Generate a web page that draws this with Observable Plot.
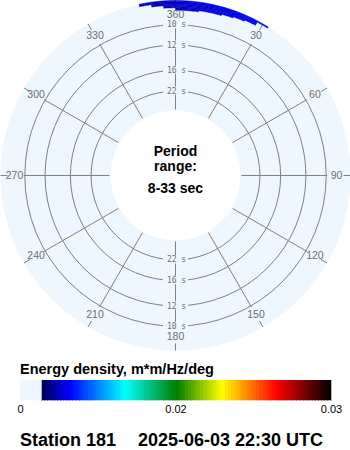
<!DOCTYPE html>
<html>
<head>
<meta charset="utf-8">
<script src="https://cdn.jsdelivr.net/npm/d3@7"></script>
<script src="https://cdn.jsdelivr.net/npm/@observablehq/plot@0.6"></script>
<style>
  html, body { margin: 0; padding: 0; background: #fff; }
  #wrap { position: relative; width: 350px; height: 450px; overflow: hidden; font-family: "Liberation Sans", Arial, sans-serif; }
  #polar { position: absolute; left: 0; top: 0; }
  #legend { position: absolute; left: 0; top: 378px; }
  .ltitle { position: absolute; left: 20px; top: 362px; font-weight: bold; font-size: 14.5px; line-height: 15px; color: #000; white-space: nowrap; }
  .title { position: absolute; top: 431px; font-weight: bold; font-size: 18px; line-height: 18px; color: #000; white-space: nowrap; }
</style>
</head>
<body>
<div id="wrap">
  <div id="polar"></div>
  <div class="ltitle" id="ltitle"></div>
  <div id="legend"></div>
  <div class="title" id="t1" style="left:20px"></div>
  <div class="title" id="t2" style="left:138px"></div>
</div>
<script>
// ---------------- data ----------------
const station = "Station 181";
const timestamp = "2025-06-03 22:30 UTC";
const legendTitle = "Energy density, m*m/Hz/deg";
const periodRange = [8, 33];                 // s
const periodRings = [10, 12, 16, 22];        // s
const dirTicks = [0, 30, 60, 90, 120, 150, 180, 210, 240, 270, 300, 330];
const dirLabels = ["360", "30", "60", "90", "120", "150", "180", "210", "240", "270", "300", "330"];
// spectral cells (direction bin centres in deg, frequency bin centres in Hz)
const directions = [-10, -6, -2, 2, 6, 10, 14, 18, 22, 26, 30];
const dirWidth = 4;
const freqs = [0.1125, 0.1135, 0.1145, 0.1155, 0.1165, 0.1175, 0.1185, 0.1195];
const freqWidth = 0.001;
const energy = [ // rows: freqs, cols: directions (m*m/Hz/deg)
  [0,      0,      0,      0.0053, 0.0055, 0,      0,      0,      0,      0,      0     ],
  [0,      0,      0,      0.0053, 0.0055, 0.0056, 0.0057, 0,      0,      0,      0     ],
  [0,      0,      0.0051, 0.0053, 0.0055, 0.0056, 0.0057, 0.0058, 0,      0,      0     ],
  [0,      0,      0.0051, 0.0053, 0.0055, 0.0056, 0.0057, 0.0058, 0.0060, 0,      0     ],
  [0,      0.0049, 0.0051, 0.0053, 0.0055, 0.0056, 0.0057, 0.0058, 0.0060, 0.0061, 0     ],
  [0,      0.0049, 0.0051, 0.0053, 0.0055, 0.0056, 0.0057, 0.0058, 0.0060, 0.0061, 0     ],
  [0.0046, 0.0049, 0.0051, 0.0053, 0.0055, 0.0056, 0.0057, 0.0058, 0.0060, 0.0061, 0     ],
  [0.0046, 0.0049, 0.0051, 0.0053, 0.0055, 0.0056, 0.0057, 0.0058, 0.0060, 0.0061, 0.0063]
];
// colour scale
const colorStops = [0, 0.0027, 0.00271, 0.0064, 0.0135, 0.0201, 0.023, 0.0265, 0.03];
const colorRange = ["#eef6fe", "#eef6fe", "#000050", "#0000ff", "#00ffff", "#008000", "#ffff00", "#ff0000", "#000000"];
const legendTicks = [0, 0.02, 0.03];
const legendTickLabels = ["0", "0.02", "0.03"];

// ---------------- layout ----------------
const DISK = "#eef6fe", GRID = "#808080", LABEL = "#6e6e6e";
const R_DISK = 175, R_LABEL = 161, R_TICK = 168;
const rScale = d3.scaleLinear().domain([1 / 33, 0.12]).range([66, 175]);
const rad = a => a * Math.PI / 180;
const px = (a, r) => r * Math.sin(rad(a));
const py = (a, r) => r * Math.cos(rad(a));

const colorOpts = { type: "linear", domain: colorStops, range: colorRange, interpolate: "rgb", clamp: true };

// cells as closed polygons
const cellPts = [];
freqs.forEach((f, i) => directions.forEach((d, j) => {
  const v = energy[i][j];
  if (!(v > 0)) return;
  const r0 = rScale(f - freqWidth / 2), r1 = rScale(f + freqWidth / 2);
  const a0 = d - dirWidth / 2, a1 = d + dirWidth / 2, id = i + "-" + j, n = 6;
  for (let k = 0; k <= n; k++) { const a = a0 + (a1 - a0) * k / n; cellPts.push({ id, v, x: px(a, r0), y: py(a, r0) }); }
  for (let k = n; k >= 0; k--) { const a = a0 + (a1 - a0) * k / n; cellPts.push({ id, v, x: px(a, r1), y: py(a, r1) }); }
}));

const periodLabelData = [];
periodRings.forEach(p => [0, 180].forEach(a => periodLabelData.push({ p, a })));
const rIn = rScale(1 / periodRange[1]);
const rOut = rScale(1 / periodRings[0]);
const centerLines = ["Period", "range:", periodRange[0] + "-" + periodRange[1] + " sec"];

const polar = Plot.plot({
  width: 350, height: 352, margin: 0,
  x: { domain: [-175, 175], range: [0, 350], axis: null },
  y: { domain: [-175, 175], range: [350, 0], axis: null },
  r: { type: "identity" },
  color: colorOpts,
  style: { background: "transparent", overflow: "visible" },
  marks: [
    Plot.dot([0], { x: () => 0, y: () => 0, r: () => R_DISK, fill: DISK, stroke: "none" }),
    Plot.link(dirTicks, { x1: d => px(d, R_TICK), y1: d => py(d, R_TICK), x2: d => px(d, R_DISK), y2: d => py(d, R_DISK), stroke: GRID, strokeWidth: 1 }),
    Plot.line(cellPts, { x: "x", y: "y", z: "id", fill: "v", stroke: "v", strokeWidth: 0.5 }),
    Plot.dot(periodRings, { x: () => 0, y: () => 0, r: d => rScale(1 / d), fill: "none", stroke: GRID, strokeWidth: 1 }),
    Plot.link(dirTicks, { x1: d => px(d, rIn), y1: d => py(d, rIn), x2: d => px(d, rOut + 1), y2: d => py(d, rOut + 1), stroke: GRID, strokeWidth: 1 }),
    Plot.dot([0], { x: () => 0, y: () => 0, r: () => rIn - 1, fill: "white", stroke: "none" }),
    Plot.rect(periodLabelData, { x1: () => -12, x2: () => 13, y1: d => py(d.a, rScale(1 / d.p)) - 4, y2: d => py(d.a, rScale(1 / d.p)) + 4, fill: DISK }),
    Plot.text(periodLabelData, { x: () => 0, y: d => py(d.a, rScale(1 / d.p)), text: d => d.p + " s", dx: 1,
      fontFamily: "DejaVu Sans Mono", fontSize: 8, fill: LABEL }),
    Plot.text(dirTicks, { x: d => px(d, R_LABEL), y: d => py(d, R_LABEL), text: (d, i) => dirLabels[i],
      fontFamily: "Liberation Sans", fontSize: 10.5, fill: LABEL }),
    Plot.text(centerLines, {
      x: () => 0, y: () => 0, text: d => d,
      fontFamily: "Liberation Sans", fontWeight: "bold", fontSize: 14, fill: "#000"
    })
  ]
});
// offset centre text lines
{
  const offs = [-19.5, -4.5, 17.5];
  const centerTexts = Array.from(polar.querySelectorAll("text")).filter(t => centerLines.includes(t.textContent));
  centerTexts.forEach((t, i) => {
    const y = parseFloat(t.getAttribute("y") || 0);
    t.setAttribute("y", y + offs[centerLines.indexOf(t.textContent)]);
  });
}
document.getElementById("polar").appendChild(polar);

// legend ramp (bar position is piecewise: 0 → left, 0.02 → middle, 0.03 → right)
const legendPos = d3.scaleLinear().domain(legendTicks).range([0, 0.5, 1]);
const tickPositions = legendTicks.map(legendPos);
const edges = d3.range(0, 0.02 - 1e-9, 0.0004).concat(d3.range(0.02, 0.03 - 1e-9, 0.0002)).concat([0.03]);
const legendCells = d3.pairs(edges).map(([a, b]) => ({ a, b, m: (a + b) / 2 }));
const legend = Plot.plot({
  width: 350, height: 44, marginTop: 2, marginBottom: 22, marginLeft: 20, marginRight: 19,
  x: { domain: [0, 1], ticks: tickPositions,
       tickFormat: d => legendTickLabels[tickPositions.indexOf(d)], tickSize: 0, tickPadding: 5, label: null },
  y: { domain: [0, 1], axis: null },
  color: colorOpts,
  style: { background: "transparent", fontSize: "11px", fontFamily: "Liberation Sans", color: "#000", overflow: "visible" },
  marks: [
    Plot.rect(legendCells, { x1: d => legendPos(d.a), x2: d => legendPos(d.b), y1: () => 0, y2: () => 1,
      fill: "m", stroke: "m", strokeWidth: 0.3, shapeRendering: "crispEdges" })
  ]
});
document.getElementById("legend").appendChild(legend);
document.getElementById("ltitle").textContent = legendTitle;
document.getElementById("t1").textContent = station;
document.getElementById("t2").textContent = timestamp;
</script>
</body>
</html>
